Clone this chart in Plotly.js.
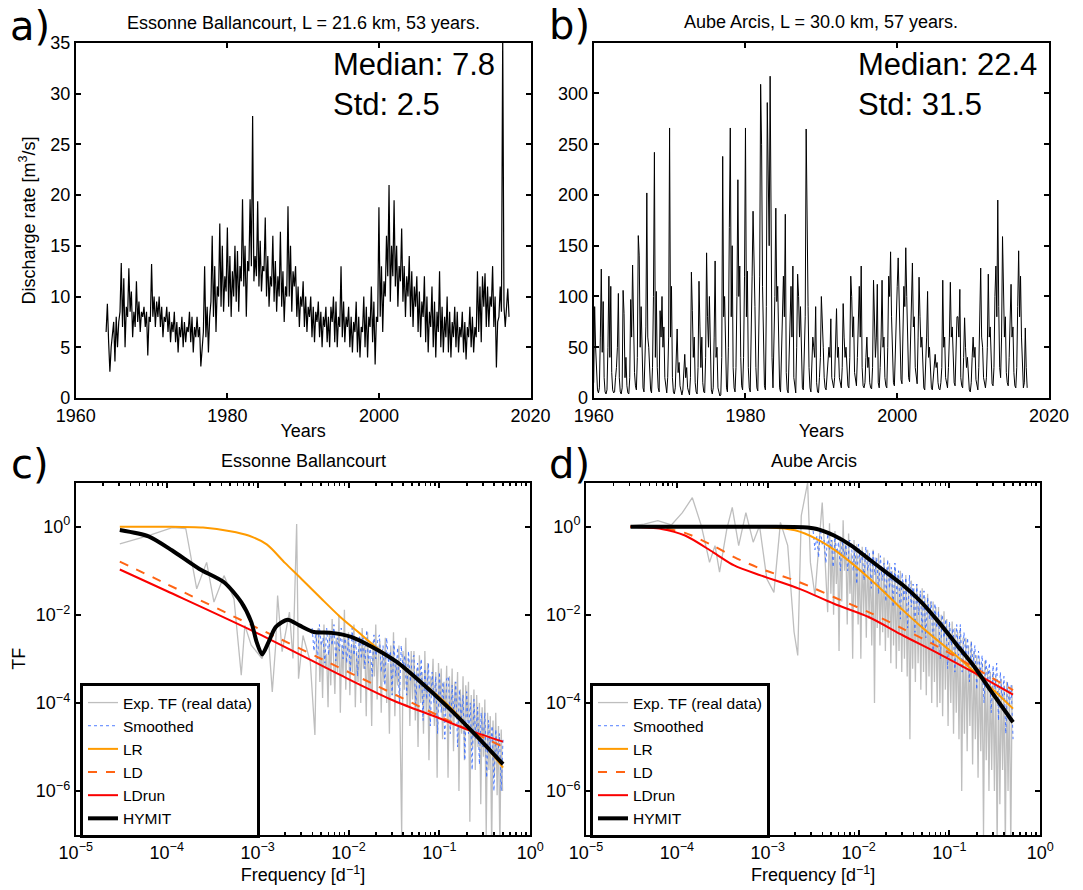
<!DOCTYPE html>
<html><head><meta charset="utf-8">
<script src="https://cdn.plot.ly/plotly-3.0.1.min.js"></script>
<style>html,body{margin:0;padding:0;background:#fff}#chart{width:1083px;height:890px}</style>
</head><body><div id="chart"></div>
<script>
// ---------- a) Essonne Ballancourt discharge (m3/s), 6 samples per year from 1964.0 ----------
const essonneStartYear = 1964.0;
const essonneSamplesPerYear = 6;
const essonneFlow = [
 6.5,9.3,5.5,2.6,5.0,6.0, 7.5,3.6,8.0,5.0,7.5,8.5, 13.3,7.0,11.8,5.0,9.0,8.0, 12.8,8.5,10.5,6.0,8.5,7.0,
 11.5,7.5,9.5,6.5,8.5,8.0, 9.0,7.0,8.5,4.2,8.0,7.5, 13.2,8.0,10.0,7.0,9.5,8.0, 10.0,7.0,9.0,6.0,8.0,7.5,
 9.0,6.5,8.5,5.5,7.5,6.5, 8.5,5.5,7.5,4.5,7.0,6.0, 8.0,5.0,7.5,5.5,7.0,6.5, 8.5,5.5,8.0,4.5,7.0,6.0,
 8.0,6.0,7.0,3.1,5.5,6.5, 13.0,6.0,9.0,4.5,8.0,9.5, 16.0,8.0,13.0,6.5,11.0,10.0, 17.2,9.0,15.0,8.5,12.0,10.5,
 16.8,9.0,14.0,8.0,12.5,10.0, 15.0,9.5,14.5,8.5,13.0,11.5, 19.6,11.0,15.0,8.0,13.5,12.5, 19.6,13.0,27.8,11.5,14.0,12.0,
 19.4,11.0,15.5,10.5,13.0,12.5, 17.8,10.0,14.0,9.0,12.0,11.0, 16.0,9.5,13.5,8.5,12.0,10.0, 16.4,9.0,12.5,7.5,11.0,10.0,
 18.9,10.0,15.0,8.5,12.5,11.0, 13.0,8.0,11.0,7.0,10.0,9.0, 11.5,7.0,10.0,6.5,9.0,8.0, 10.0,6.0,9.0,5.5,8.5,7.5,
 9.5,6.0,8.5,5.0,8.0,7.0, 9.0,5.5,8.0,5.0,9.0,7.5, 10.0,5.5,9.5,5.0,8.0,7.0, 13.0,6.0,9.5,5.5,8.0,7.0,
 9.0,5.0,8.0,4.5,7.5,6.5, 9.5,4.5,8.0,4.0,7.0,6.5, 10.0,5.0,9.0,4.0,8.0,7.0, 11.0,5.5,9.5,3.3,8.0,7.5,
 18.8,8.0,13.0,6.5,11.5,10.0, 16.0,12.0,21.0,9.5,15.0,12.0, 19.5,11.0,15.0,9.0,13.0,11.5, 16.7,9.5,13.0,8.0,12.0,10.0,
 14.0,8.0,12.5,7.0,11.0,9.0, 12.0,6.5,10.5,6.0,9.5,8.0, 12.0,5.5,10.0,4.5,8.5,7.0, 11.0,5.0,9.5,4.0,8.5,6.5,
 12.5,5.0,9.0,4.5,8.0,6.0, 10.0,4.5,8.5,4.0,7.5,6.0, 9.0,5.0,8.5,4.5,7.0,6.0, 8.5,4.5,7.5,3.8,7.0,6.0,
 9.0,5.0,8.0,4.5,7.0,6.0, 12.5,6.5,11.0,5.5,12.0,9.0, 12.3,7.0,11.0,7.0,10.0,9.0, 13.0,7.0,10.0,3.0,7.5,8.0,
 11.0,8.5,36.0,9.0,7.0,8.5, 10.8,8.0
];

// ---------- b) Aube Arcis discharge (m3/s), 8 samples per year from 1960.0 ----------
const aubeStartYear = 1960.0;
const aubeSamplesPerYear = 8;
const aubeFlow = [
 15,90,50,20,8,5,10,60, 127,45,95,20,6,4,8,50, 120,40,110,25,8,5,6,20, 30,50,103,20,6,4,10,106,
 83,20,40,12,5,4,20,97, 60,131,50,25,12,8,40,160, 140,50,90,30,10,6,30,70, 202,60,50,20,8,5,30,100,
 242,40,105,30,10,6,86,60, 100,50,70,20,8,5,20,60, 266,60,110,20,6,4,10,40, 68,25,35,12,5,3,8,30,
 43,20,30,10,5,3,20,124, 86,40,60,15,6,4,30,115, 70,30,60,15,6,5,40,143, 80,50,100,25,8,4,10,60,
 135,40,50,10,4,2,3,40, 238,80,100,40,10,6,50,168, 266,80,150,30,10,6,30,100, 215,100,130,40,12,8,40,120,
 266,80,125,30,10,6,50,120, 184,108,90,30,10,7,60,120, 309,250,110,35,12,8,90,291, 200,150,317,160,40,10,50,100,
 187,95,110,30,10,6,50,100, 120,80,181,25,8,5,40,90, 110,60,130,20,8,5,50,122, 100,60,90,30,10,8,40,80,
 265,153,90,30,10,6,30,60, 50,40,90,15,6,5,20,40, 100,60,50,20,10,8,20,40, 50,40,78,20,12,10,20,45,
 88,40,50,20,12,10,30,93, 60,40,50,20,12,10,40,120, 100,60,80,25,15,12,40,90, 110,60,130,30,12,10,15,40,
 60,30,40,15,10,9,30,116, 70,40,60,112,15,10,30,60, 116,50,60,20,12,10,50,120, 100,144,80,30,15,12,50,100,
 110,138,90,35,18,14,60,110, 90,148,100,40,20,16,50,90, 133,70,80,30,18,14,60,119, 80,50,60,20,10,8,30,60,
 105,40,50,20,10,8,20,35, 43,30,35,15,9,8,15,30, 116,50,60,20,12,10,30,60, 114,60,70,25,15,12,40,80,
 80,60,107,20,12,10,40,79, 50,30,40,15,8,6,15,40, 60,40,50,18,10,8,30,70, 128,60,50,20,12,10,20,50,
 122,60,70,25,14,12,30,100, 130,80,195,90,30,20,60,159, 100,60,80,25,15,12,40,80, 112,60,70,25,12,10,30,90,
 145,80,120,60,20,10,15,69, 30,10
];

// ---------- c) Essonne transfer functions ----------
const expLowFreqC = [3.05e-5,6.31e-5,1.15e-4,1.62e-4,2.14e-4,2.75e-4,3.31e-4,4.27e-4,5.5e-4,6.61e-4,7.24e-4,8.51e-4,1.12e-3,1.32e-3,1.45e-3,1.58e-3,1.66e-3,1.86e-3,2.24e-3,2.45e-3,2.69e-3,2.82e-3,3.16e-3,3.8e-3,4.27e-3,4.47e-3];
const expLowTFC = [0.407,0.631,0.955,0.912,0.0389,0.155,0.0195,0.0776,0.0229,4.27e-4,5.75e-3,2.04e-3,1.02e-3,2.88e-3,1.78e-4,2.04e-3,0.0275,1.45e-3,0.0115,1.02e-3,1.15,3.55e-4,3.39e-3,8.51e-4,1.86e-5,4.07e-3];
const expBandLogF0C = -2.33, expBandLogStepC = 0.015;
const expBandTFC = [
 5e-3,3e-4,2.5e-3,1.3e-4,6e-3,6e-4,1.3e-3,8e-5,4e-3,2.5e-4,8e-3,1e-3,1.6e-4,3e-3,5e-4,1e-2,6e-5,2e-3,4e-4,1.3e-2,2e-4,2.5e-3,
 4e-3,1.5e-4,2e-3,5e-4,6e-3,8e-5,1.5e-3,3e-4,3e-3,1e-4,5e-3,6e-4,2e-3,5e-5,4e-3,2e-4,1e-3,3e-5,2.5e-3,4e-4,6e-3,1.2e-4,1.5e-3,
 2.5e-3,6e-5,1.2e-3,3e-4,3e-3,1e-4,8e-4,2e-5,2e-3,1.5e-4,4e-3,5e-5,1e-3,2.5e-4,2e-3,4e-5,1e-7,1.5e-3,2e-4,3e-3,8e-5,1e-3,3e-5,1.5e-3,1.2e-4,
 1.5e-3,4e-5,6e-4,1e-5,1.2e-3,1e-4,5e-4,2e-5,1.5e-3,6e-5,8e-4,5e-6,4e-4,1.5e-4,1e-3,3e-5,5e-4,2e-6,8e-4,8e-5,6e-4,1.5e-5,3e-4,6e-5,7e-4,
 2e-6,4e-4,3e-5,6e-4,8e-6,3e-4,5e-5,5e-4,1e-6,2e-4,2e-5,4e-4,5e-6,2.5e-4,4e-5,3e-4,2e-7,1.5e-4,1e-5,2e-4,3e-6,
 1.5e-4,1e-5,1e-4,5e-7,8e-5,6e-6,1.2e-4,1e-7,6e-5,3e-6,5e-5,5e-8,4e-5,2e-6,6e-5,8e-7,3e-5,5e-8,2.5e-5,1e-6
];
const smoothLogF0C = -2.4, smoothLogStepC = 0.02;
const smoothTFC = [
 5e-3,1.5e-3,4e-3,1e-3,6e-3,2e-3,3e-3,8e-4,5e-3,1.2e-3,4e-3,2e-3,6e-3,9e-4,3e-3,1.5e-3,5e-3,1e-3,
 4e-3,8e-4,3e-3,5e-4,5e-3,1.2e-3,2.5e-3,4e-4,4e-3,1e-3,3e-3,6e-4,4.5e-3,8e-4,2e-3,4e-4,3.5e-3,1e-3,2.5e-3,
 3.5e-3,5e-4,2e-3,2.5e-4,3e-3,8e-4,1.5e-3,1.5e-4,2.5e-3,4e-4,1.8e-3,1e-4,2e-3,6e-4,1.2e-3,1.5e-4,1.5e-3,3e-4,1e-3,
 1.2e-3,8e-5,8e-4,2e-4,1e-3,4e-5,6e-4,1.2e-4,8e-4,3e-5,5e-4,1e-4,4e-4,2e-5,5e-4,6e-5,3e-4,1.5e-5,3.5e-4,
 4e-4,2e-5,2.5e-4,5e-5,3e-4,1e-5,2e-4,4e-5,1.5e-4,5e-6,1.8e-4,2e-5,1e-4,3e-6,1.2e-4,1.5e-5,8e-5,4e-6,6e-5,1e-5,
 6e-5,2e-6,4e-5,8e-6,3e-5,1e-6,2.5e-5,5e-6,2e-5,1e-6,1.5e-5
];
const lrFreqC = [3.05e-5,1e-4,2.51e-4,5.01e-4,7.94e-4,1.26e-3,2e-3,3.16e-3,5.01e-3,7.94e-3,1.26e-2,2e-2,3.16e-2,5.01e-2,7.94e-2,0.126,0.2,0.316,0.501];
const lrTFC = [1,1,0.955,0.794,0.631,0.398,0.151,0.0603,0.0234,9.33e-3,4.17e-3,1.86e-3,9.33e-4,4.27e-4,2.04e-4,8.71e-5,3.16e-5,1.12e-5,3.39e-6];
const ldFreqC = [3.05e-5,1e-4,1e-3,1e-2,0.1,0.501];
const ldTFC = [0.162,0.0501,5.01e-3,5.01e-4,5.01e-5,1e-5];
const ldrunFreqC = [3.05e-5,1e-4,1e-3,1e-2,3.16e-2,0.1,0.2,0.501];
const ldrunTFC = [0.107,0.0347,3.8e-3,3.47e-4,1.12e-4,4.47e-5,2.51e-5,1.32e-5];
const hymitFreqC = [3.05e-5,6.31e-5,1.15e-4,2.29e-4,4.27e-4,6.61e-4,8.51e-4,9.77e-4,1.12e-3,1.32e-3,1.58e-3,2.14e-3,2.88e-3,4.17e-3,6.46e-3,1.07e-2,1.82e-2,3.39e-2,6.17e-2,0.123,0.251,0.501];
const hymitTFC = [0.841,0.603,0.288,0.110,0.0550,0.0195,6.92e-3,2.40e-3,1.26e-3,2.40e-3,5.25e-3,7.76e-3,5.75e-3,4.07e-3,3.89e-3,3.16e-3,1.86e-3,8.51e-4,3.02e-4,8.13e-5,1.86e-5,4.07e-6];

// ---------- d) Aube transfer functions ----------
const expLowFreqD = [3.09e-5,4.37e-5,6.17e-5,8.71e-5,1.15e-4,1.48e-4,1.86e-4,2.29e-4,2.63e-4,2.95e-4,3.55e-4,4.07e-4,4.79e-4,5.75e-4,6.92e-4,8.13e-4,9.77e-4,1.17e-3,1.38e-3,1.66e-3,1.95e-3,2.14e-3,2.34e-3,2.75e-3,2.95e-3,3.31e-3,3.98e-3,4.57e-3];
const expLowTFD = [1.05,1.15,1.38,1.1,2.09,4.57,1.05,0.155,0.372,0.0933,0.891,2.75,0.372,2.09,0.447,1.05,0.0661,0.0324,1.26,0.372,4.07e-3,1.2e-3,1.78,10,0.155,0.0275,3.55,0.0115];
const expBandLogF0D = -2.32, expBandLogStepD = 0.015;
const expBandTFD = [
 1.2,0.03,0.5,0.01,0.8,0.05,0.3,1.5e-3,0.6,0.02,1.4,0.1,0.4,6e-3,0.7,0.03,0.25,1e-3,0.5,0.015,
 0.4,6e-3,0.25,1e-3,0.35,0.01,0.2,3e-3,0.3,8e-3,0.15,2e-3,0.3,1e-4,0.2,5e-3,0.25,2e-3,0.12,4e-3,
 0.2,1.5e-3,0.12,3e-3,0.15,8e-4,0.1,2e-3,0.12,6e-4,0.08,1.5e-3,0.1,5e-4,0.06,1e-3,0.08,4e-4,0.05,1.5e-5,
 0.06,6e-4,0.04,3e-4,0.05,8e-4,0.03,2e-4,0.04,5e-4,0.025,1.5e-4,0.03,4e-4,0.02,1e-4,0.02,3e-4,0.015,8e-5,
 0.015,1e-4,0.01,5e-5,0.012,2e-4,8e-3,3e-5,6e-3,1e-4,7e-3,2e-5,5e-3,6e-5,4e-3,1.5e-5,5e-3,1e-6,3e-3,2e-5,
 3e-3,8e-6,2e-3,3e-5,2.5e-3,4e-6,1.5e-3,1.5e-5,1.2e-3,2e-6,1e-3,8e-6,8e-4,1e-7,9e-4,5e-6,6e-4,1e-6,5e-4,3e-6,
 5e-4,1e-6,4e-4,5e-8,3e-4,5e-7,3.5e-4,3e-6,2.5e-4,5e-8,3e-4,1e-6,2e-4,5e-8,2.5e-4
];
const smoothLogF0D = -2.5, smoothLogStepD = 0.02;
const smoothTFD = [
 0.8,0.3,0.6,0.2,0.9,0.4,0.5,0.15,0.7,0.3,0.5,0.12,0.6,0.25,0.45,0.1,0.5,0.2,0.4,0.1,0.5,
 0.45,0.1,0.35,0.05,0.4,0.15,0.3,0.06,0.35,0.1,0.25,0.04,0.3,0.08,0.2,0.03,0.22,0.06,0.15,0.02,
 0.18,0.04,0.12,0.015,0.15,0.03,0.1,0.008,0.09,0.02,0.07,0.005,0.08,0.015,0.05,0.004,0.05,0.01,0.035,0.004,
 0.035,0.003,0.025,0.008,0.02,0.0015,0.018,0.005,0.012,0.001,0.01,0.003,0.008,0.0006,0.007,0.002,0.005,0.0005,0.006,0.0012,
 0.006,0.0005,0.004,0.0012,0.003,0.0003,0.0025,0.0008,0.002,0.0002,0.0015,0.0005,0.0012,0.0001,0.001,0.0003,0.0008,0.00006,0.0007,0.0002,
 0.0008,0.00004,0.0005,0.00012,0.0004,0.00002,0.0003,0.00008,0.00025,0.000015
];
const lrFreqD = [3.09e-5,3.16e-4,1e-3,2e-3,3.47e-3,5.37e-3,8.32e-3,1.29e-2,2e-2,3.09e-2,4.9e-2,7.59e-2,0.117,0.182,0.282,0.501];
const lrTFD = [1,1,0.977,0.832,0.525,0.302,0.151,0.0692,0.0302,0.0126,5.37e-3,2.51e-3,1.2e-3,5.37e-4,2.29e-4,7.41e-5];
const hymitFreqD = [3.09e-5,1e-3,2.45e-3,3.47e-3,5.37e-3,8.32e-3,1.29e-2,2e-2,3.09e-2,4.9e-2,7.59e-2,0.117,0.182,0.282,0.501];
const hymitTFD = [1,1,0.977,0.891,0.631,0.372,0.186,0.0933,0.0468,0.0195,6.92e-3,2.24e-3,7.24e-4,1.95e-4,3.63e-5];
const ldFreqD = [3.09e-5,6.76e-5,1.23e-4,2.51e-4,4.27e-4,8.51e-4,2.24e-3,5.37e-3,1.29e-2,3.09e-2,7.59e-2,0.182,0.501];
const ldTFD = [1,0.933,0.724,0.372,0.204,0.11,0.055,0.0251,0.0115,4.79e-3,1.86e-3,6.61e-4,1.95e-4];
const ldrunTFD = [1,0.891,0.631,0.263,0.132,0.0776,0.0389,0.0178,8.91e-3,3.39e-3,1.32e-3,5.01e-4,1.55e-4];

// ---------- labels ----------
const seriesNames = ['Exp. TF (real data)','Smoothed','LR','LD','LDrun','HYMIT'];
const panelTitles = ['Essonne Ballancourt, L = 21.6 km, 53 years.','Aube Arcis, L = 30.0 km, 57 years.','Essonne Ballancourt','Aube Arcis'];
const statsA = ['Median: 7.8','Std: 2.5'];
const statsB = ['Median: 22.4','Std: 31.5'];

// ---------- build ----------
const W = 1083, H = 890;
const FONT = 'Liberation Sans, Arial, Helvetica, sans-serif';
const times = (start, per, n) => Array.from({length:n}, (_, i) => start + i / per);
const logGrid = (l0, step, n) => Array.from({length:n}, (_, i) => Math.pow(10, l0 + i * step));

const C_GRAY = 'rgb(190,190,190)', C_BLUE = 'rgb(60,110,255)', C_LR = 'rgb(255,155,0)', C_LD = 'rgb(255,100,20)', C_LDRUN = 'rgb(250,0,0)';

function specTraces(xa, ya, leg, expF, expV, smF, smV, lrF, lrV, ldF, ldV, ldrF, ldrV, hyF, hyV) {
  return [
    {x: expF, y: expV, xaxis: xa, yaxis: ya, legend: leg, name: seriesNames[0], mode: 'lines', line: {color: C_GRAY, width: 1.3}},
    {x: smF, y: smV, xaxis: xa, yaxis: ya, legend: leg, name: seriesNames[1], mode: 'lines', line: {color: C_BLUE, width: 0.9, dash: 'dot'}},
    {x: lrF, y: lrV, xaxis: xa, yaxis: ya, legend: leg, name: seriesNames[2], mode: 'lines', line: {color: C_LR, width: 2, shape: 'spline', smoothing: 0.8}},
    {x: ldF, y: ldV, xaxis: xa, yaxis: ya, legend: leg, name: seriesNames[3], mode: 'lines', line: {color: C_LD, width: 2, dash: 'dash', shape: 'spline', smoothing: 0.8}},
    {x: ldrF, y: ldrV, xaxis: xa, yaxis: ya, legend: leg, name: seriesNames[4], mode: 'lines', line: {color: C_LDRUN, width: 2, shape: 'spline', smoothing: 0.8}},
    {x: hyF, y: hyV, xaxis: xa, yaxis: ya, legend: leg, name: seriesNames[5], mode: 'lines', line: {color: 'black', width: 4, shape: 'spline', smoothing: 0.7}}
  ];
}

const expFreqC = expLowFreqC.concat(logGrid(expBandLogF0C, expBandLogStepC, expBandTFC.length));
const expTFC = expLowTFC.concat(expBandTFC);
const expFreqD = expLowFreqD.concat(logGrid(expBandLogF0D, expBandLogStepD, expBandTFD.length));
const expTFD = expLowTFD.concat(expBandTFD);

const traces = [
  {x: times(essonneStartYear, essonneSamplesPerYear, essonneFlow.length), y: essonneFlow, xaxis: 'x', yaxis: 'y', mode: 'lines', line: {color: 'black', width: 1.2}, showlegend: false},
  {x: times(aubeStartYear, aubeSamplesPerYear, aubeFlow.length), y: aubeFlow, xaxis: 'x2', yaxis: 'y2', mode: 'lines', line: {color: 'black', width: 1}, showlegend: false}
].concat(
  specTraces('x3', 'y3', 'legend', expFreqC, expTFC, logGrid(smoothLogF0C, smoothLogStepC, smoothTFC.length), smoothTFC,
    lrFreqC, lrTFC, ldFreqC, ldTFC, ldrunFreqC, ldrunTFC, hymitFreqC, hymitTFC),
  specTraces('x4', 'y4', 'legend2', expFreqD, expTFD, logGrid(smoothLogF0D, smoothLogStepD, smoothTFD.length), smoothTFD,
    lrFreqD, lrTFD, ldFreqD, ldTFD, ldFreqD, ldrunTFD, hymitFreqD, hymitTFD)
);

const fx = px => px / W, fy = py => 1 - py / H;
const baseAxis = {
  showline: true, linecolor: 'black', linewidth: 2, mirror: 'allticks',
  ticks: 'inside', ticklen: 5, tickwidth: 2, tickcolor: 'black',
  showgrid: false, zeroline: false,
  tickfont: {family: FONT, size: 18, color: 'black'}
};
const decadeVals = [1e-5, 1e-4, 1e-3, 1e-2, 1e-1, 1];
const decadeText = ['10<sup>−5</sup>', '10<sup>−4</sup>', '10<sup>−3</sup>', '10<sup>−2</sup>', '10<sup>−1</sup>', '10<sup>0</sup>'];
const minorVals = [];
for (let e = -5; e < 0; e++) for (let m = 2; m <= 9; m++) minorVals.push(m * Math.pow(10, e));
const logX = (dom) => Object.assign({}, baseAxis, {
  type: 'log', domain: dom, range: [-5, 0], tickmode: 'array', tickvals: decadeVals, ticktext: decadeText,
  minor: {tickmode: 'array', tickvals: minorVals, ticks: 'inside', ticklen: 3, tickwidth: 1.5, tickcolor: 'black', showgrid: false},
  title: {text: 'Frequency [d<sup>−1</sup>]', font: {family: FONT, size: 18, color: 'black'}, standoff: 4}
});
const logY = (dom, withTitle) => Object.assign({}, baseAxis, {
  type: 'log', domain: dom, range: [-7, 1], tickmode: 'array',
  tickvals: [1e-6, 1e-4, 1e-2, 1], ticktext: ['10<sup>−6</sup>', '10<sup>−4</sup>', '10<sup>−2</sup>', '10<sup>0</sup>'],
  title: withTitle ? {text: 'TF', font: {family: FONT, size: 18, color: 'black'}, standoff: 6} : {text: ''}
});
const yearsTitle = {text: 'Years', font: {family: FONT, size: 18, color: 'black'}, standoff: 0};

const legendBase = {
  bgcolor: 'white', bordercolor: 'black', borderwidth: 3, xanchor: 'left', yanchor: 'top',
  font: {family: FONT, size: 15.5, color: 'black'}, tracegroupgap: 0, itemwidth: 30
};

const ann = (text, px, py, size, opts) => Object.assign({
  text: text, x: fx(px), y: fy(py), xref: 'paper', yref: 'paper', showarrow: false,
  xanchor: 'center', yanchor: 'middle', font: {family: FONT, size: size, color: 'black'}
}, opts || {});

const layout = {
  width: W, height: H, margin: {l: 0, r: 0, t: 0, b: 0},
  paper_bgcolor: 'white', plot_bgcolor: 'white', showlegend: true,
  xaxis: Object.assign({}, baseAxis, {domain: [fx(75.8), fx(530.5)], range: [1960, 2020], tickmode: 'array', tickvals: [1960, 1980, 2000, 2020], anchor: 'y', title: yearsTitle}),
  yaxis: Object.assign({}, baseAxis, {domain: [fy(398), fy(43)], range: [0, 35], tickmode: 'array', tickvals: [0,5,10,15,20,25,30,35], anchor: 'x',
    title: {text: 'Discharge rate [m<sup>3</sup>/s]', font: {family: FONT, size: 18, color: 'black'}, standoff: 10}}),
  xaxis2: Object.assign({}, baseAxis, {domain: [fx(593.7), fx(1049)], range: [1960, 2020], tickmode: 'array', tickvals: [1960, 1980, 2000, 2020], anchor: 'y2', title: yearsTitle}),
  yaxis2: Object.assign({}, baseAxis, {domain: [fy(398), fy(42.7)], range: [0, 350], tickmode: 'array', tickvals: [0,50,100,150,200,250,300], anchor: 'x2'}),
  xaxis3: Object.assign(logX([fx(75.8), fx(530.3)]), {anchor: 'y3'}),
  yaxis3: Object.assign(logY([fy(835), fy(482.7)], true), {anchor: 'x3'}),
  xaxis4: Object.assign(logX([fx(586), fx(1040.3)]), {anchor: 'y4'}),
  yaxis4: Object.assign(logY([fy(835), fy(482.7)], false), {anchor: 'x4'}),
  legend: Object.assign({}, legendBase, {x: fx(80), y: fy(683)}),
  legend2: Object.assign({}, legendBase, {x: fx(590), y: fy(683)}),
  annotations: [
    ann('a)', 30, 26, 40, {font: {family: 'DejaVu Sans', size: 40, color: 'black'}}),
    ann('b)', 569, 25, 40, {font: {family: 'DejaVu Sans', size: 40, color: 'black'}}),
    ann('c)', 30, 464, 40, {font: {family: 'DejaVu Sans', size: 40, color: 'black'}}),
    ann('d)', 569, 464, 40, {font: {family: 'DejaVu Sans', size: 40, color: 'black'}}),
    ann(panelTitles[0], 303, 22.7, 18),
    ann(panelTitles[1], 821, 22, 18),
    ann(panelTitles[2], 303, 461, 18),
    ann(panelTitles[3], 813.5, 461, 18),
    ann(statsA[0], 330.6, 64, 31, {xanchor: 'left'}),
    ann(statsA[1], 330.6, 104, 31, {xanchor: 'left'}),
    ann(statsB[0], 855.8, 64, 31, {xanchor: 'left'}),
    ann(statsB[1], 855.8, 104, 31, {xanchor: 'left'})
  ]
};

Plotly.newPlot('chart', traces, layout, {staticPlot: true, displayModeBar: false});
</script></body></html>
